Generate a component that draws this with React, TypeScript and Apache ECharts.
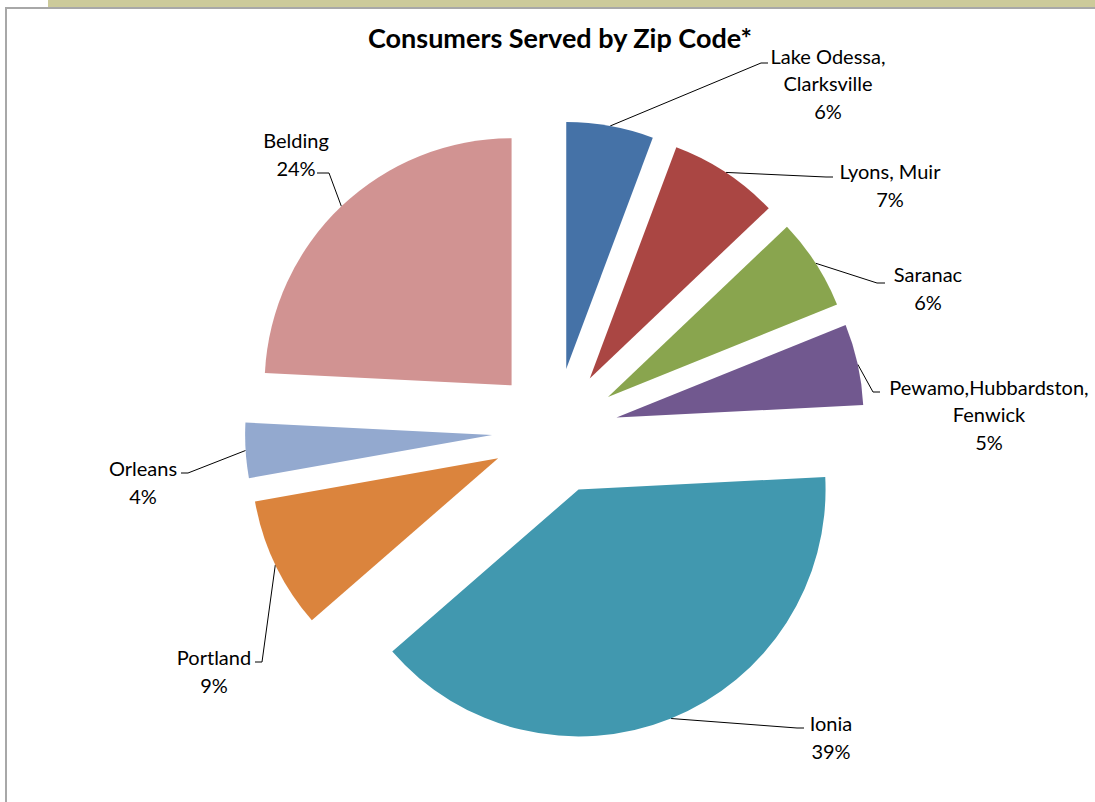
import React, { useEffect, useRef } from "react";
import * as echarts from "echarts";

const categories = [
  "Lake Odessa,\nClarksville",
  "Lyons, Muir",
  "Saranac",
  "Pewamo,Hubbardston,\nFenwick",
  "Ionia",
  "Portland",
  "Orleans",
  "Belding",
];
const values = [5.7, 7.2, 6.0, 5.3, 39.4, 8.6, 3.6, 24.2];
const colors = ["#4572A7", "#AA4643", "#89A54E", "#71588F", "#4198AF", "#DB843D", "#93A9CF", "#D19392"];

// layout only: label block centres and leader-line bend/end points
const labelPos: [number, number][] = [
  [828, 83],
  [890, 185],
  [928, 288],
  [989, 414],
  [831, 737],
  [214, 671],
  [143, 482],
  [296, 154],
];
const leaderEnds: [number, number, number][] = [
  // bendX, endX, y
  [761, 768, 63],
  [826, 833, 177],
  [877, 885, 283],
  [873, 880, 392],
  [797, 804, 728],
  [262, 255, 662],
  [188, 181, 473],
  [329, 317, 173],
];

const CX = 555;
const CY = 431;
const RADIUS = 247;
const EXPLODE = 63;

export default function App() {
  const ref = useRef<HTMLDivElement>(null);
  useEffect(() => {
    const chart = echarts.init(ref.current!, null, { renderer: "svg" });
    const total = values.reduce((a, b) => a + b, 0);
    let acc = 0;
    const series = values.map((v, i) => {
      const mid = ((acc + v / 2) / total) * 2 * Math.PI;
      acc += v;
      const cx = CX + EXPLODE * Math.sin(mid);
      const cy = CY - EXPLODE * Math.cos(mid);
      return {
        type: "pie",
        center: [cx, cy],
        radius: RADIUS,
        startAngle: 90,
        clockwise: true,
        avoidLabelOverlap: false,
        silent: true,
        emphasis: { disabled: true },
        itemStyle: { borderWidth: 0 },
        data: categories.map((c, j) => ({
          name: c,
          value: values[j],
          itemStyle: { color: j === i ? colors[j] : "rgba(0,0,0,0)" },
          label: { show: j === i },
          labelLine: { show: j === i },
        })),
        label: {
          position: "outside",
          formatter: (p: any) => `${p.name}\n${Math.round(p.percent)}%`,
          fontFamily: "Lato",
          fontSize: 20,
          lineHeight: 27.5,
          color: "#000",
          align: "center",
          verticalAlign: "middle",
        },
        labelLine: { length: 20, length2: 10, lineStyle: { color: "#000", width: 1 } },
        labelLayout: (params: any) => {
          if (params.dataIndex !== i) return {};
          const p = labelPos[i];
          const e = leaderEnds[i];
          const start = params.labelLinePoints ? params.labelLinePoints[0] : [e[0], e[2]];
          return {
            x: p[0],
            y: p[1],
            align: "center",
            verticalAlign: "middle",
            labelLinePoints: [start, [e[0], e[2]], [e[1], e[2]]],
          };
        },
      };
    });
    chart.setOption({
      animation: false,
      backgroundColor: "#ffffff",
      title: {
        text: "Consumers Served by Zip Code*",
        left: 555,
        top: 19,
        textAlign: "center",
        textStyle: { fontFamily: "Lato", fontWeight: "bold", fontSize: 27, color: "#000" },
      },
      graphic: [
        { type: "rect", shape: { x: 48, y: 0, width: 1047, height: 7 }, style: { fill: "#CCCA9A" }, silent: true },
        { type: "rect", shape: { x: 5, y: 7, width: 1090, height: 2 }, style: { fill: "#A8A8A8" }, silent: true },
        { type: "rect", shape: { x: 5, y: 7, width: 2, height: 795 }, style: { fill: "#A8A8A8" }, silent: true },
      ],
      series,
    });
    return () => chart.dispose();
  }, []);
  return <div ref={ref} style={{ position: "fixed", left: 0, top: 0, width: 1095, height: 802 }} />;
}
